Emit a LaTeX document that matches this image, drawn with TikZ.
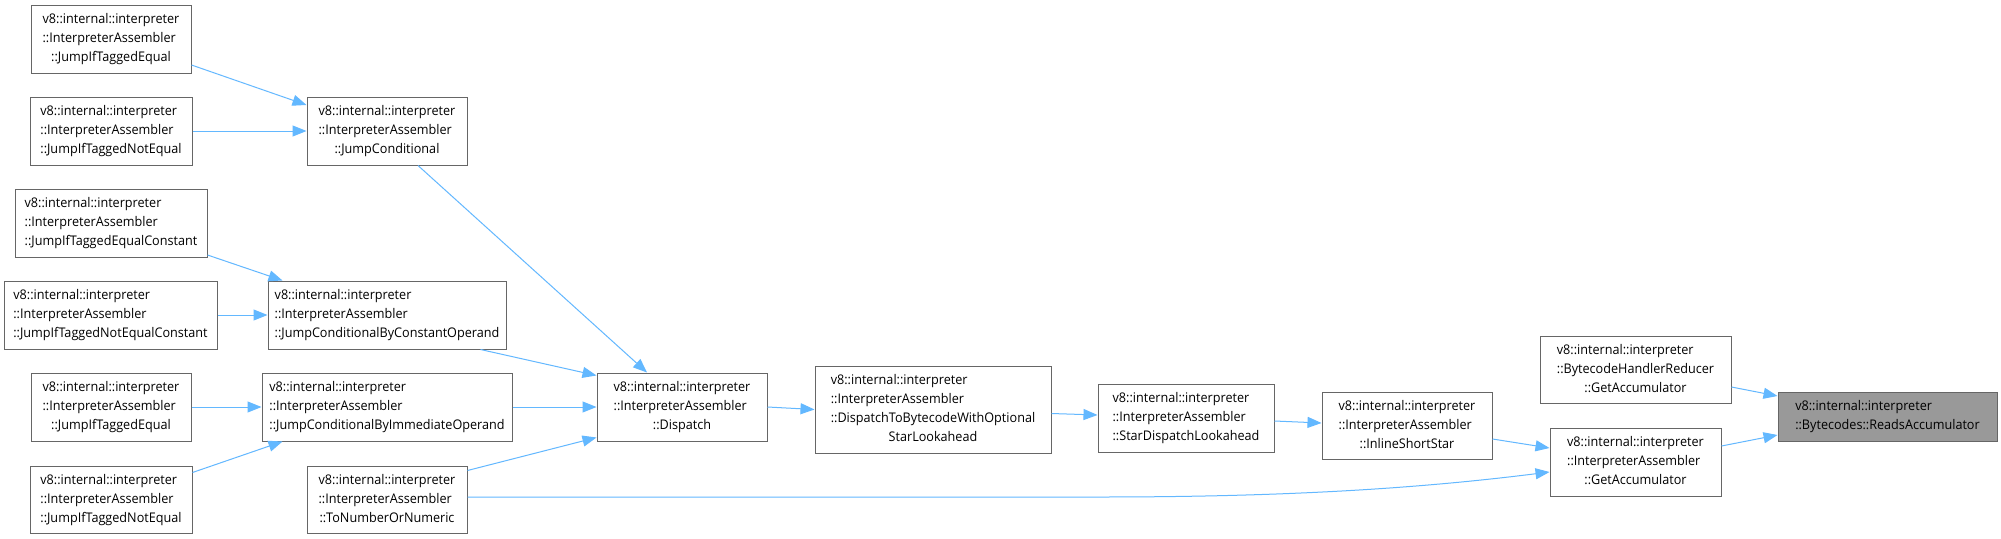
\documentclass[tikz,border=0pt]{standalone}
\usepackage{fontspec}
\setmainfont{Open Sans}[FakeStretch=0.95]
\usetikzlibrary{arrows.meta}
\definecolor{edgeblue}{HTML}{63B8FF}
\definecolor{boxgray}{HTML}{666666}
\definecolor{hlfill}{HTML}{999999}
\newcommand\lbl[2]{\begin{tabular}{@{}l@{}}#1\\\multicolumn{1}{@{}c@{}}{#2}\end{tabular}}
\tikzset{
  fnbox/.style={draw=boxgray, line width=1pt, fill=white, inner sep=0pt, align=center,
    font=\fontsize{13.3}{19}\selectfont},
  calledge/.style={draw=edgeblue, line width=1pt, -{Triangle[length=14pt,width=11pt]}},
}
\begin{document}
\begin{tikzpicture}[x=1pt,y=-1pt]
\useasboundingbox (0,0) rectangle (2001,538);
\fill[white] (0,0) rectangle (2001,538);
% nodes
\node[fnbox, minimum width=160pt, minimum height=68pt] (jiteA) at (111,39)
  {\lbl{v8::internal::interpreter\\::InterpreterAssembler}{::JumpIfTaggedEqual}};
\node[fnbox, minimum width=162pt, minimum height=68pt] (jitneA) at (111,131)
  {\lbl{v8::internal::interpreter\\::InterpreterAssembler}{::JumpIfTaggedNotEqual}};
\node[fnbox, minimum width=160pt, minimum height=68pt] (jc) at (387,131)
  {\lbl{v8::internal::interpreter\\::InterpreterAssembler}{::JumpConditional}};
\node[fnbox, minimum width=192pt, minimum height=68pt] (jitec) at (111,223)
  {\lbl{v8::internal::interpreter\\::InterpreterAssembler}{::JumpIfTaggedEqualConstant}};
\node[fnbox, minimum width=213pt, minimum height=68pt] (jitnec) at (110.5,315)
  {\lbl{v8::internal::interpreter\\::InterpreterAssembler}{::JumpIfTaggedNotEqualConstant}};
\node[fnbox, minimum width=238pt, minimum height=68pt] (jcbco) at (387,315)
  {\lbl{v8::internal::interpreter\\::InterpreterAssembler}{::JumpConditionalByConstantOperand}};
\node[fnbox, minimum width=160pt, minimum height=68pt] (jiteB) at (111,407)
  {\lbl{v8::internal::interpreter\\::InterpreterAssembler}{::JumpIfTaggedEqual}};
\node[fnbox, minimum width=250pt, minimum height=68pt] (jcbio) at (387,407)
  {\lbl{v8::internal::interpreter\\::InterpreterAssembler}{::JumpConditionalByImmediateOperand}};
\node[fnbox, minimum width=162pt, minimum height=67pt] (jitneB) at (111,499.5)
  {\lbl{v8::internal::interpreter\\::InterpreterAssembler}{::JumpIfTaggedNotEqual}};
\node[fnbox, minimum width=160pt, minimum height=67pt] (tnon) at (387,499.5)
  {\lbl{v8::internal::interpreter\\::InterpreterAssembler}{::ToNumberOrNumeric}};
\node[fnbox, minimum width=170pt, minimum height=68pt] (disp) at (682,407)
  {\lbl{v8::internal::interpreter\\::InterpreterAssembler}{::Dispatch}};
\node[fnbox, minimum width=236pt, minimum height=87pt] (dtb) at (933,409.5)
  {\lbl{v8::internal::interpreter\\::InterpreterAssembler\\::DispatchToBytecodeWithOptional}{StarLookahead}};
\node[fnbox, minimum width=176pt, minimum height=68pt] (sdl) at (1186,418)
  {\lbl{v8::internal::interpreter\\::InterpreterAssembler}{::StarDispatchLookahead}};
\node[fnbox, minimum width=170pt, minimum height=67pt] (iss) at (1407,425.5)
  {\lbl{v8::internal::interpreter\\::InterpreterAssembler}{::InlineShortStar}};
\node[fnbox, minimum width=191pt, minimum height=67pt] (bhr) at (1635.5,369.5)
  {\lbl{v8::internal::interpreter\\::BytecodeHandlerReducer}{::GetAccumulator}};
\node[fnbox, minimum width=171pt, minimum height=68pt] (iaga) at (1635.5,462)
  {\lbl{v8::internal::interpreter\\::InterpreterAssembler}{::GetAccumulator}};
\node[fnbox, fill=hlfill, minimum width=219pt, minimum height=49pt] (ra) at (1887.5,416.5)
  {\lbl{v8::internal::interpreter}{::Bytecodes::ReadsAccumulator}};
% edges
\draw[calledge] ([yshift=-26pt]jiteA.east) -- ([yshift=26pt]jc.west);
\draw[calledge] (jitneA.east) -- (jc.west);
\draw[calledge] ([xshift=31pt]jc.south) -- ([xshift=-35pt]disp.north);
\draw[calledge] ([yshift=-32pt]jitec.east) -- ([xshift=15pt]jcbco.north west);
\draw[calledge] (jitnec.east) -- (jcbco.west);
\draw[calledge] ([xshift=-26pt]jcbco.south east) -- ([yshift=-3pt]disp.north west);
\draw[calledge] (jiteB.east) -- (jcbio.west);
\draw[calledge] ([yshift=27pt]jitneB.east) -- ([xshift=21pt]jcbio.south west);
\draw[calledge] (jcbio.east) -- (disp.west);
\draw[calledge] ([yshift=29pt]tnon.east) -- ([yshift=4pt]disp.south west);
\draw[calledge] ([yshift=2.5pt]tnon.east) -- (1100,497) .. controls (1300,497) and (1430,487) .. ([yshift=-10pt]iaga.west);
\draw[calledge] (disp.east) -- (dtb.west);
\draw[calledge] ([yshift=-4pt]dtb.east) -- ([yshift=3pt]sdl.west);
\draw[calledge] ([yshift=-3pt]sdl.east) -- ([yshift=2.5pt]iss.west);
\draw[calledge] ([yshift=-13.5pt]iss.east) -- ([yshift=14pt]iaga.west);
\draw[calledge] ([yshift=-17.5pt]bhr.east) -- ([yshift=20.5pt]ra.west);
\draw[calledge] ([yshift=16pt]iaga.east) -- ([yshift=-18.5pt]ra.west);
\end{tikzpicture}
\end{document}
